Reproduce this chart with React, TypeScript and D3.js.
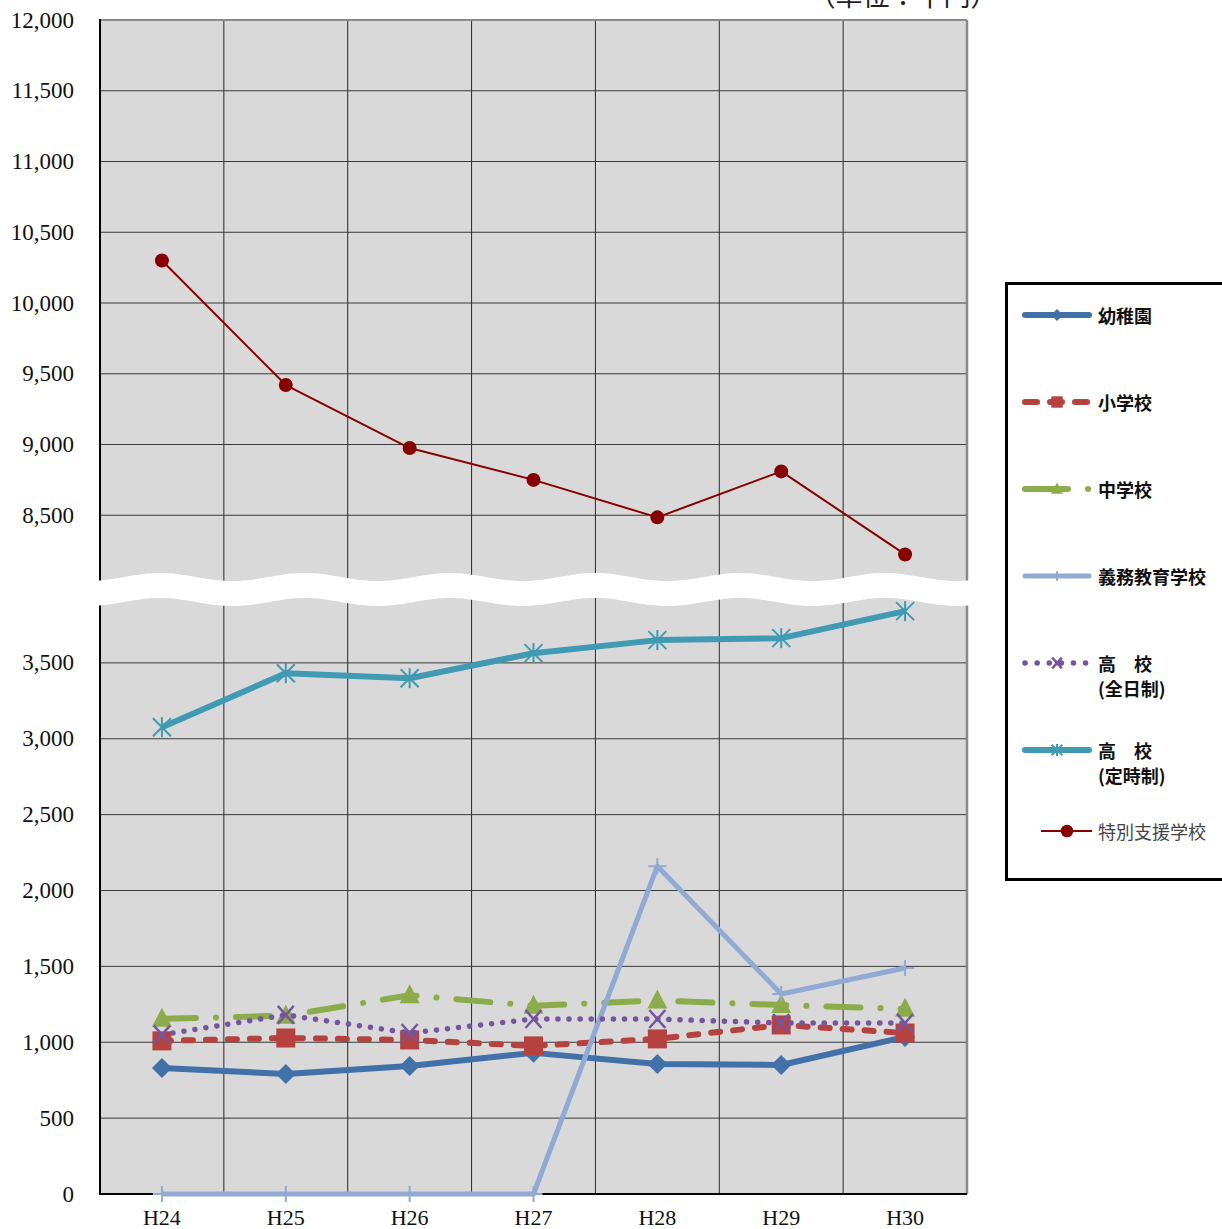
import React from 'react';
import * as d3 from 'd3';

const categories = ['H24', 'H25', 'H26', 'H27', 'H28', 'H29', 'H30'];
const kindergarten = [830, 791, 844, 930, 857, 850, 1035];
const elementary = [1009, 1028, 1015, 976, 1022, 1114, 1061];
const juniorHigh = [1155, 1175, 1310, 1240, 1275, 1245, 1220];
const compulsory = [0, 0, 0, 0, 2160, 1318, 1489];
const highFull = [1050, 1180, 1061, 1153, 1153, 1127, 1127];
const highPart = [3076, 3432, 3399, 3564, 3650, 3663, 3841];
const special = [10300, 9420, 8975, 8750, 8485, 8810, 8223];
const upperTicks = [8500, 9000, 9500, 10000, 10500, 11000, 11500, 12000];
const lowerTicks = [0, 500, 1000, 1500, 2000, 2500, 3000, 3500];
const unitLabel = '（単位：千円）';

type MarkerType = 'diamond' | 'square' | 'triangle' | 'plus' | 'x' | 'asterisk' | 'circle';
interface Series {
  label: string[];
  values: number[];
  color: string;
  width: number;
  dash: string;
  legendDash: string;
  marker: MarkerType;
  upper: boolean;
}

const series: Series[] = [
  { label: ['幼稚園'], values: kindergarten, color: '#4270A8', width: 6, dash: '', legendDash: '', marker: 'diamond', upper: false },
  { label: ['小学校'], values: elementary, color: '#B5423F', width: 6, dash: '9,13', legendDash: '12,13', marker: 'square', upper: false },
  { label: ['中学校'], values: juniorHigh, color: '#8CAC4B', width: 6, dash: '34,20,0.1,20', legendDash: '43,20,0.1,20', marker: 'triangle', upper: false },
  { label: ['義務教育学校'], values: compulsory, color: '#91A9D3', width: 5, dash: '', legendDash: '', marker: 'plus', upper: false },
  { label: ['高　校', '(全日制)'], values: highFull, color: '#7655A0', width: 5.5, dash: '0.1,11', legendDash: '0.1,12', marker: 'x', upper: false },
  { label: ['高　校', '(定時制)'], values: highPart, color: '#3F9AB2', width: 6, dash: '', legendDash: '', marker: 'asterisk', upper: false },
  { label: ['特別支援学校'], values: special, color: '#870000', width: 2, dash: '', legendDash: '', marker: 'circle', upper: true },
];

const drawOrder = [0, 2, 1, 3, 4, 5, 6];

function Marker({ type, x, y, color, k }: { type: MarkerType; x: number; y: number; color: string; k: number }) {
  const s = 10 * k;
  switch (type) {
    case 'diamond':
      return <path d={`M${x},${y - s}L${x + s},${y}L${x},${y + s}L${x - s},${y}Z`} fill={color} />;
    case 'square':
      return <rect x={x - 9.5 * k} y={y - 9.5 * k} width={19 * k} height={19 * k} fill={color} />;
    case 'triangle':
      return <path d={`M${x},${y - 11 * k}L${x + s},${y + 8 * k}L${x - s},${y + 8 * k}Z`} fill={color} />;
    case 'plus':
      return (
        <g stroke={color} strokeWidth={2}>
          <line x1={x - 9 * k} x2={x + 9 * k} y1={y} y2={y} />
          <line x1={x} x2={x} y1={y - 8 * k} y2={y + 8 * k} />
        </g>
      );
    case 'x':
      return (
        <g stroke={color} strokeWidth={2.5}>
          <line x1={x - 8 * k} x2={x + 8 * k} y1={y - 9 * k} y2={y + 9 * k} />
          <line x1={x - 8 * k} x2={x + 8 * k} y1={y + 9 * k} y2={y - 9 * k} />
        </g>
      );
    case 'asterisk':
      return (
        <g stroke={color} strokeWidth={2}>
          <line x1={x - 9 * k} x2={x + 9 * k} y1={y - 9 * k} y2={y + 9 * k} />
          <line x1={x - 9 * k} x2={x + 9 * k} y1={y + 9 * k} y2={y - 9 * k} />
          <line x1={x} x2={x} y1={y - 10 * k} y2={y + 10 * k} />
        </g>
      );
    case 'circle':
      return <circle cx={x} cy={y} r={7 * k} fill={color} />;
  }
  return null;
}

export default function App() {
  const W = 1222;
  const H = 1229;
  const left = 100;
  const right = 967;
  const top = 20;
  const bottom = 1194;

  const x = d3.scaleBand<string>().domain(categories).range([left, right]).paddingInner(0).paddingOuter(0);
  const cx = (c: string) => (x(c) as number) + x.bandwidth() / 2;
  const yUpper = d3.scaleLinear().domain([8000, 12000]).range([586, top]);
  const yLower = d3.scaleLinear().domain([0, 4000]).range([bottom, 587]);

  const serif = '"Liberation Serif", "DejaVu Serif", serif';
  const sans = '"Noto Sans CJK JP", "Noto Sans", sans-serif';

  const wave: [number, number][] = d3.range(left - 4, right + 6, 2).map((px) => [px, 577 - 4 * Math.cos((2 * Math.PI * (px - 160)) / 145)]);
  const bandH = 25;
  const waveTop = d3.line().curve(d3.curveBasis)(wave) as string;
  const waveBottom = d3.line().curve(d3.curveBasis)(wave.slice().reverse().map(([a, b]) => [a, b + bandH] as [number, number])) as string;
  const bandPath = waveTop + 'L' + waveBottom.slice(1) + 'Z';

  const gridUpper = [8000, ...upperTicks.filter((t) => t < 12000)];
  const gridLower = [...lowerTicks.filter((t) => t > 0), 4000];
  const vLines = categories.slice(1).map((c) => x(c) as number);

  const legendY = [315, 402, 489, 576, 663, 750, 831];

  return (
    <svg width={W} height={H} style={{ position: 'absolute', left: 0, top: 0 }} xmlns="http://www.w3.org/2000/svg">
      <rect x={0} y={0} width={W} height={H} fill="#ffffff" />
      <text x={903} y={6} textAnchor="middle" fontFamily={sans} fontSize={27} fill="#222">{unitLabel}</text>

      <rect x={left} y={top} width={right - left} height={bottom - top} fill="#D9D9D9" />
      {gridUpper.map((t) => (
        <line key={'gu' + t} x1={left} x2={right} y1={yUpper(t)} y2={yUpper(t)} stroke="#3a3a3a" strokeWidth={1} />
      ))}
      {gridLower.map((t) => (
        <line key={'gl' + t} x1={left} x2={right} y1={yLower(t)} y2={yLower(t)} stroke="#3a3a3a" strokeWidth={1} />
      ))}
      {vLines.map((vx, i) => (
        <line key={'v' + i} x1={vx} x2={vx} y1={top} y2={bottom} stroke="#2a2a2a" strokeWidth={1} />
      ))}
      <line x1={left} x2={right} y1={top} y2={top} stroke="#8a8a8a" strokeWidth={2} />
      <line x1={right} x2={right} y1={top} y2={bottom} stroke="#8a8a8a" strokeWidth={2.5} />
      <line x1={left} x2={left} y1={top - 1} y2={bottom + 1} stroke="#000" strokeWidth={2} />
      <line x1={left - 1} x2={right} y1={bottom} y2={bottom} stroke="#000" strokeWidth={2} />

      <path d={bandPath} fill="#ffffff" />

      {upperTicks.map((t) => (
        <text key={'lu' + t} x={74} y={yUpper(t)} textAnchor="end" dominantBaseline="central" fontFamily={serif} fontSize={23} fill="#111">
          {d3.format(',')(t)}
        </text>
      ))}
      {lowerTicks.map((t) => (
        <text key={'ll' + t} x={74} y={yLower(t)} textAnchor="end" dominantBaseline="central" fontFamily={serif} fontSize={23} fill="#111">
          {d3.format(',')(t)}
        </text>
      ))}
      {categories.map((c) => (
        <text key={'xl' + c} x={cx(c)} y={1225} textAnchor="middle" fontFamily={serif} fontSize={22} fill="#111">
          {c}
        </text>
      ))}

      {drawOrder.map((si) => {
        const s = series[si];
        const ys = s.upper ? yUpper : yLower;
        const pts: [number, number][] = s.values.map((v, i) => [cx(categories[i]), ys(v)]);
        const path = d3.line()(pts) as string;
        return (
          <g key={'s' + si}>
            <path d={path} fill="none" stroke={s.color} strokeWidth={s.width} strokeDasharray={s.dash || undefined} strokeLinecap={s.dash ? 'round' : 'butt'} strokeLinejoin="round" />
            {pts.map(([px, py], i) => (
              <Marker key={i} type={s.marker} x={px} y={py} color={s.color} k={1} />
            ))}
          </g>
        );
      })}

      <rect x={1006.5} y={283.5} width={240} height={596} fill="#ffffff" stroke="#000" strokeWidth={3} />
      {series.map((s, i) => {
        const ly = legendY[i];
        const isSpecial = s.upper;
        const x1 = isSpecial ? 1041 : 1025;
        const x2 = isSpecial ? 1092 : 1089;
        const mx = isSpecial ? 1067 : 1057;
        return (
          <g key={'lg' + i}>
            <line x1={x1} x2={x2} y1={ly} y2={ly} stroke={s.color} strokeWidth={s.width} strokeDasharray={s.legendDash || undefined} strokeLinecap={isSpecial ? 'butt' : 'round'} />
            <Marker type={s.marker} x={mx} y={ly} color={s.color} k={isSpecial ? 0.9 : 0.6} />
            {s.label.map((t, j) => (
              <text key={j} x={1098} y={ly + j * 25} dominantBaseline="central" fontFamily={sans} fontSize={18} fontWeight={isSpecial ? 400 : 700} fill={isSpecial ? '#444' : '#111'}>
                {t}
              </text>
            ))}
          </g>
        );
      })}
    </svg>
  );
}
